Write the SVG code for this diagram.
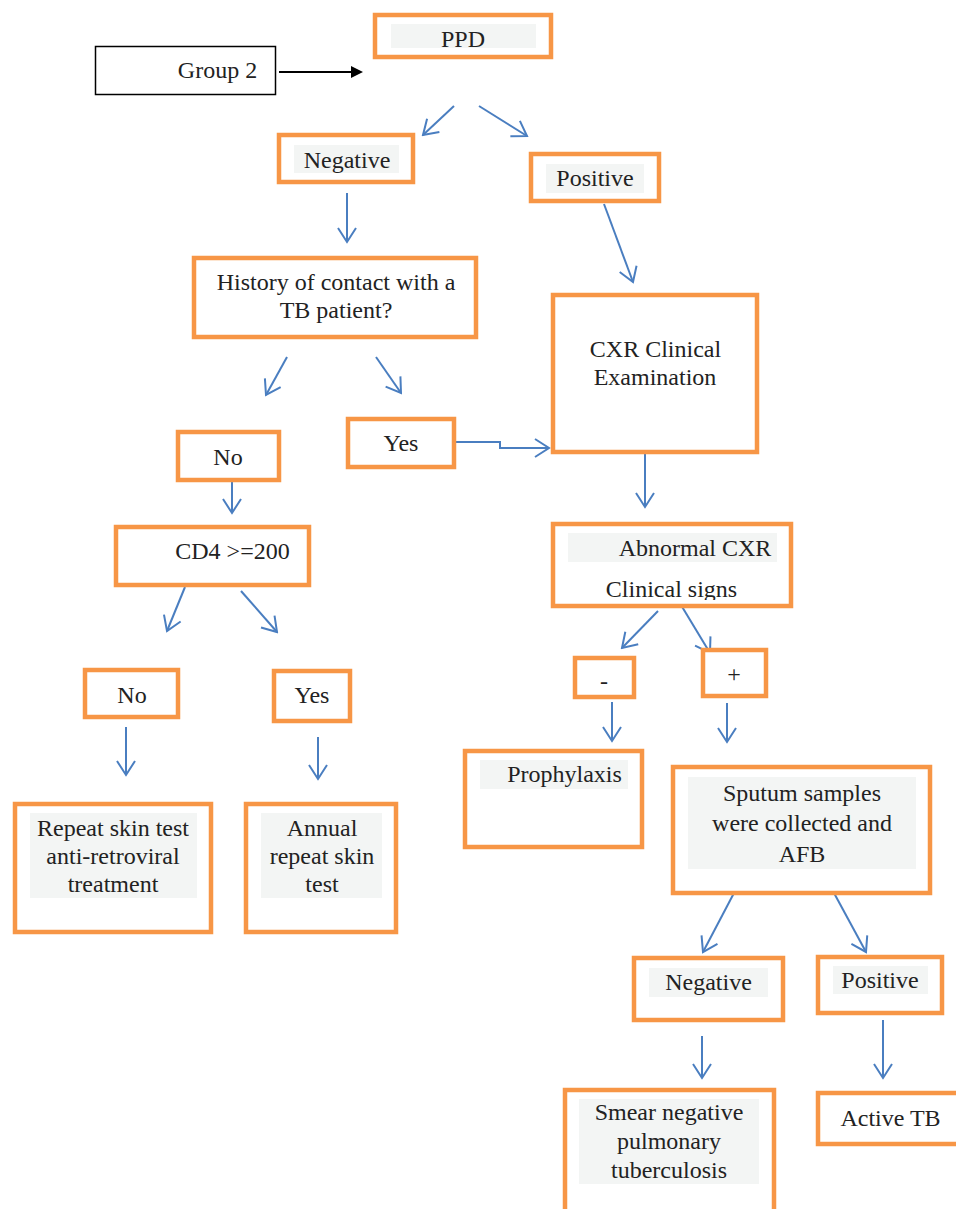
<svg xmlns="http://www.w3.org/2000/svg" width="956" height="1209" viewBox="0 0 956 1209">
<style>
.box{fill:#fff;stroke:#F79646;stroke-width:4.5}
.bg{fill:#F3F5F4}
.t{font-family:"Liberation Serif","Times New Roman",serif;font-size:24px;fill:#222;text-anchor:middle}
.c{fill:none;stroke:#4A7EC0;stroke-width:2;marker-end:url(#ah)}
</style>
<defs>
<marker id="ah" markerUnits="userSpaceOnUse" viewBox="-18 -12 20 24" markerWidth="20" markerHeight="24" refX="0" refY="0" orient="auto">
<path d="M-14,-9 L0,0 L-14,9" fill="none" stroke="#4A7EC0" stroke-width="2"/>
</marker>
<clipPath id="clipAb"><rect x="553" y="524" width="238" height="76"/></clipPath>
</defs>
<rect width="956" height="1209" fill="#fff"/>
<g id="connectors">
<line class="c" x1="454" y1="106" x2="423" y2="135"/>
<line class="c" x1="479" y1="106" x2="527" y2="136"/>
<line class="c" x1="347" y1="193" x2="347" y2="242"/>
<line class="c" x1="604" y1="204" x2="633" y2="282"/>
<line class="c" x1="287" y1="357" x2="266" y2="395"/>
<line class="c" x1="376" y1="357" x2="401" y2="393"/>
<polyline class="c" points="456,442 500,442 500,448 549,448"/>
<line class="c" x1="232" y1="482" x2="232" y2="513"/>
<line class="c" x1="645" y1="454" x2="645" y2="507"/>
<line class="c" x1="185" y1="587" x2="167" y2="631"/>
<line class="c" x1="241" y1="591" x2="277" y2="632"/>
<line class="c" x1="658" y1="611" x2="622" y2="648"/>
<line class="c" x1="681" y1="605" x2="710" y2="653"/>
<line class="c" x1="612" y1="702" x2="612" y2="741"/>
<line class="c" x1="727" y1="703" x2="727" y2="742"/>
<line class="c" x1="126" y1="727" x2="126" y2="775"/>
<line class="c" x1="318" y1="737" x2="318" y2="779"/>
<line class="c" x1="734" y1="893" x2="703" y2="952"/>
<line class="c" x1="834" y1="893" x2="866" y2="952"/>
<line class="c" x1="702" y1="1036" x2="702" y2="1078"/>
<line class="c" x1="883" y1="1020" x2="883" y2="1078"/>
<line x1="279" y1="72" x2="352" y2="72" stroke="#000" stroke-width="2"/>
<polygon points="351,66 363,72 351,78" fill="#000"/>
</g>
<g id="group2">
<rect x="95.5" y="46.5" width="180" height="48" fill="#fff" stroke="#000" stroke-width="1.5"/>
<text class="t" x="217.5" y="78">Group 2</text>
</g>
<g id="ppd">
<rect class="box" x="375" y="15" width="176" height="42"/>
<rect class="bg" x="391" y="24" width="145" height="24"/>
<text class="t" x="463" y="47">PPD</text>
</g>
<g id="negative1">
<rect class="box" x="279" y="135" width="134" height="47"/>
<rect class="bg" x="294" y="145" width="105" height="28"/>
<text class="t" x="347" y="168">Negative</text>
</g>
<g id="positive1">
<rect class="box" x="531" y="154" width="128" height="47"/>
<rect class="bg" x="546" y="164" width="98" height="29"/>
<text class="t" x="595" y="186">Positive</text>
</g>
<g id="history">
<rect class="box" x="194" y="258" width="282" height="79"/>
<text class="t" x="336" y="290">History of contact with a</text>
<text class="t" x="336" y="318">TB patient?</text>
</g>
<g id="yes1">
<rect class="box" x="348" y="419" width="106" height="48"/>
<text class="t" x="401" y="451">Yes</text>
</g>
<g id="no1">
<rect class="box" x="178" y="432" width="101" height="48"/>
<text class="t" x="228" y="465">No</text>
</g>
<g id="cxr">
<rect class="box" x="553" y="295" width="204" height="157"/>
<text class="t" x="655.5" y="357">CXR Clinical</text>
<text class="t" x="655" y="385">Examination</text>
</g>
<g id="cd4">
<rect class="box" x="116" y="527" width="193" height="58"/>
<text class="t" x="232.5" y="559">CD4 &gt;=200</text>
</g>
<g id="abnormal">
<rect class="box" x="553" y="524" width="238" height="82"/>
<rect class="bg" x="568" y="533" width="209" height="29"/>
<text class="t" x="695" y="556">Abnormal CXR</text>
<text class="t" x="671.5" y="597" clip-path="url(#clipAb)">Clinical signs</text>
</g>
<g id="minus">
<rect class="box" x="575" y="658" width="59" height="39"/>
<text class="t" x="604" y="689">-</text>
</g>
<g id="plus">
<rect class="box" x="703" y="650" width="63" height="46"/>
<text class="t" x="734" y="682">+</text>
</g>
<g id="no2">
<rect class="box" x="85" y="670" width="93" height="47"/>
<text class="t" x="132" y="703">No</text>
</g>
<g id="yes2">
<rect class="box" x="274" y="671" width="76" height="50"/>
<text class="t" x="312" y="703">Yes</text>
</g>
<g id="prophylaxis">
<rect class="box" x="465" y="751" width="177" height="96"/>
<rect class="bg" x="480" y="760" width="148" height="29"/>
<text class="t" x="564.5" y="782">Prophylaxis</text>
</g>
<g id="sputum">
<rect class="box" x="673" y="767" width="257" height="126"/>
<rect class="bg" x="688" y="777" width="228" height="92"/>
<text class="t" x="802" y="801">Sputum samples</text>
<text class="t" x="802" y="831">were collected and</text>
<text class="t" x="802" y="862">AFB</text>
</g>
<g id="repeat">
<rect class="box" x="15" y="804" width="196" height="128"/>
<rect class="bg" x="30" y="813" width="167" height="85"/>
<text class="t" x="113" y="836">Repeat skin test</text>
<text class="t" x="113" y="864">anti-retroviral</text>
<text class="t" x="113" y="892">treatment</text>
</g>
<g id="annual">
<rect class="box" x="246" y="804" width="150" height="128"/>
<rect class="bg" x="261" y="813" width="121" height="85"/>
<text class="t" x="322" y="836">Annual</text>
<text class="t" x="322" y="864">repeat skin</text>
<text class="t" x="322" y="892">test</text>
</g>
<g id="negative2">
<rect class="box" x="634" y="958" width="149" height="62"/>
<rect class="bg" x="649" y="968" width="119" height="29"/>
<text class="t" x="708.5" y="990">Negative</text>
</g>
<g id="positive2">
<rect class="box" x="818" y="957" width="124" height="56"/>
<rect class="bg" x="833" y="966" width="95" height="28"/>
<text class="t" x="880" y="988">Positive</text>
</g>
<g id="smear">
<rect class="box" x="565" y="1090" width="209" height="140"/>
<rect class="bg" x="579" y="1099" width="180" height="85"/>
<text class="t" x="669" y="1120">Smear negative</text>
<text class="t" x="669" y="1149">pulmonary</text>
<text class="t" x="669" y="1178">tuberculosis</text>
</g>
<g id="activetb">
<rect class="box" x="818" y="1093" width="150" height="51"/>
<text class="t" x="890.5" y="1126">Active TB</text>
</g>
</svg>
